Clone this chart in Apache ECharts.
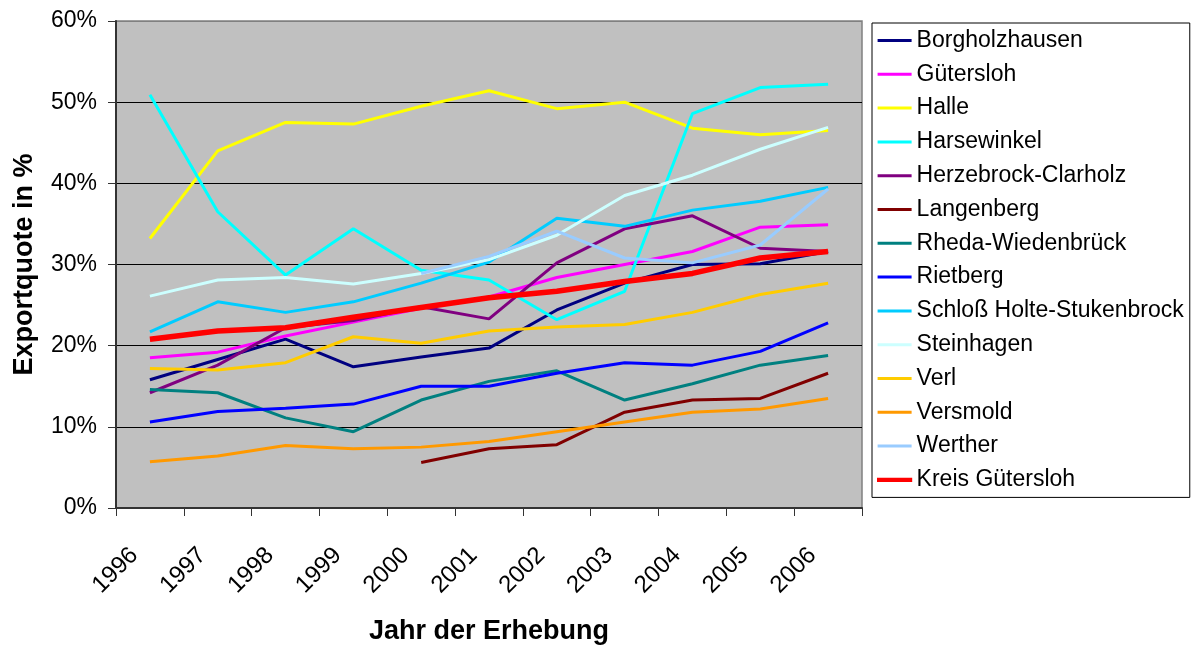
<!DOCTYPE html>
<html>
<head>
<meta charset="utf-8">
<script src="https://cdn.jsdelivr.net/npm/echarts@6/dist/echarts.min.js"></script>
<style>
html,body{margin:0;padding:0;background:#fff;}
#c{width:1201px;height:646px;}
</style>
</head>
<body>
<div id="c"></div>
<script>
const years = ['1996','1997','1998','1999','2000','2001','2002','2003','2004','2005','2006'];
const yTicks = [0,10,20,30,40,50,60];

const borgholzhausen = [15.8,18.3,20.8,17.4,18.6,19.7,24.4,27.7,30.0,30.1,31.6];
const guetersloh     = [18.5,19.2,21.2,22.9,24.6,26.0,28.4,30.0,31.6,34.6,34.9];
const halle          = [33.2,44.0,47.5,47.3,49.5,51.4,49.2,50.0,46.8,46.0,46.5];
const harsewinkel    = [50.9,36.5,28.7,34.4,29.3,28.1,23.2,26.7,48.6,51.8,52.2];
const herzebrock     = [14.2,17.6,22.2,23.1,24.8,23.3,30.2,34.4,36.0,32.0,31.6];
const langenberg     = [null,null,null,null,5.6,7.3,7.8,11.8,13.3,13.5,16.6];
const rheda          = [14.6,14.2,11.1,9.4,13.3,15.6,16.9,13.3,15.3,17.6,18.8];
const rietberg       = [10.6,11.9,12.3,12.8,15.0,15.0,16.6,17.9,17.6,19.3,22.8];
const schloss        = [21.7,25.4,24.1,25.4,27.7,30.3,35.7,34.7,36.7,37.8,39.5];
const steinhagen     = [26.1,28.1,28.4,27.6,28.9,30.6,33.6,38.5,41.0,44.2,46.9];
const verl           = [17.2,17.0,17.9,21.1,20.3,21.8,22.3,22.6,24.1,26.3,27.7];
const versmold       = [5.7,6.4,7.7,7.3,7.5,8.2,9.4,10.6,11.8,12.2,13.5];
const werther        = [null,null,null,null,28.9,31.0,34.1,30.8,30.2,32.4,39.3];
const kreis          = [20.8,21.8,22.2,23.5,24.7,25.9,26.7,27.9,28.9,30.8,31.6];

const seriesDefs = [
  ['Borgholzhausen', borgholzhausen, '#000080', 3],
  ['Gütersloh', guetersloh, '#FF00FF', 3],
  ['Halle', halle, '#FFFF00', 3],
  ['Harsewinkel', harsewinkel, '#00FFFF', 3],
  ['Herzebrock-Clarholz', herzebrock, '#800080', 3],
  ['Langenberg', langenberg, '#800000', 3],
  ['Rheda-Wiedenbrück', rheda, '#008080', 3],
  ['Rietberg', rietberg, '#0000FF', 3],
  ['Schloß Holte-Stukenbrock', schloss, '#00CCFF', 3],
  ['Steinhagen', steinhagen, '#CCFFFF', 3],
  ['Verl', verl, '#FFCC00', 3],
  ['Versmold', versmold, '#FF9900', 3],
  ['Werther', werther, '#99CCFF', 3],
  ['Kreis Gütersloh', kreis, '#FF0000', 5.5]
];

const FONT = '"Liberation Sans", Arial, Helvetica, sans-serif';

const chart = echarts.init(document.getElementById('c'), null, {renderer:'canvas'});
chart.setOption({
  animation: false,
  backgroundColor: '#ffffff',
  textStyle: {fontFamily: FONT, color: '#000'},
  grid: {
    left: 116, right: 339, top: 21, bottom: 138,
    containLabel: false,
    outerBoundsMode: 'none',
    show: true, backgroundColor: '#C0C0C0', borderColor: '#808080', borderWidth: 1.5
  },
  legend: {
    orient: 'vertical',
    left: 872, top: 23,
    padding: [6, 6, 6, 5],
    itemWidth: 34, itemHeight: 3,
    itemGap: 10.8,
    icon: 'rect',
    borderColor: '#000', borderWidth: 1,
    backgroundColor: '#fff',
    textStyle: {fontFamily: FONT, fontSize: 23, color: '#000', lineHeight: 23},
    data: seriesDefs.map(d => d[3] > 3
      ? {name: d[0], itemStyle: {color: d[2], borderColor: d[2], borderWidth: 1.2}}
      : {name: d[0], itemStyle: {color: d[2], borderWidth: 0}})
  },
  xAxis: {
    type: 'category',
    data: years,
    boundaryGap: true,
    name: 'Jahr der Erhebung',
    nameLocation: 'middle',
    nameGap: 110,
    nameTextStyle: {fontFamily: FONT, fontSize: 27, fontWeight: 'bold', color: '#000'},
    axisLine: {show: true, lineStyle: {color: '#333', width: 2}},
    axisTick: {show: true, length: 8, lineStyle: {color: '#333', width: 1}},
    axisLabel: {rotate: 45, margin: 28, padding: [0, 22, 0, 0], fontSize: 24, color: '#000', fontFamily: FONT, interval: 0},
    splitLine: {show: false}
  },
  yAxis: {
    type: 'value',
    min: yTicks[0], max: yTicks[yTicks.length - 1], interval: 10,
    name: 'Exportquote in %',
    nameLocation: 'middle',
    nameRotate: 90,
    nameGap: 78,
    nameTextStyle: {fontFamily: FONT, fontSize: 27, fontWeight: 'bold', color: '#000'},
    axisLine: {show: true, lineStyle: {color: '#333', width: 2}},
    axisTick: {show: true, inside: false, length: 8, lineStyle: {color: '#333', width: 1}},
    axisLabel: {formatter: '{value}%', margin: 19, fontSize: 23, color: '#000', fontFamily: FONT},
    splitLine: {show: true, lineStyle: {color: ['#000','#000','#000','#000','#000','#000','#808080'], width: 1}}
  },
  series: seriesDefs.map(d => ({
    name: d[0],
    type: 'line',
    data: d[1],
    symbol: 'none',
    connectNulls: false,
    lineStyle: {color: d[2], width: d[3]},
    itemStyle: {color: d[2]},
    emphasis: {disabled: true}
  }))
});
</script>
</body>
</html>
